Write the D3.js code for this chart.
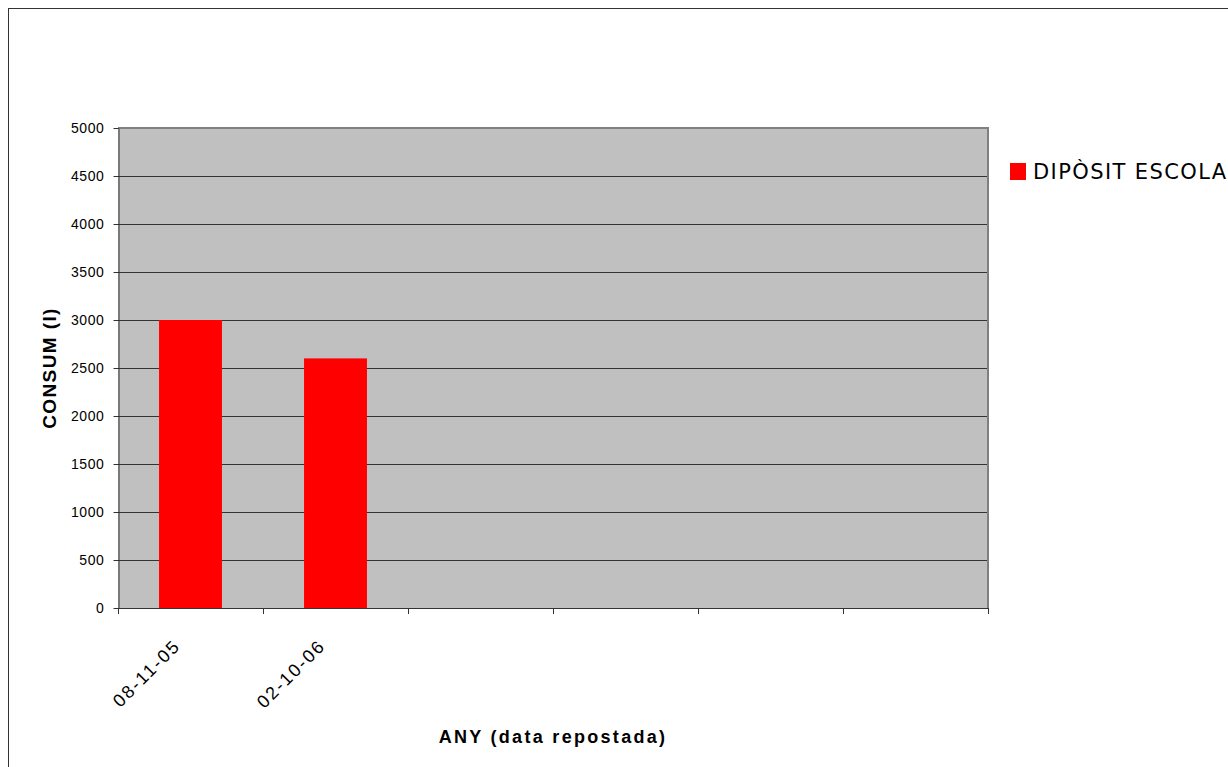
<!DOCTYPE html>
<html>
<head>
<meta charset="utf-8">
<script src="https://cdn.jsdelivr.net/npm/d3@7"></script>
<style>
  html, body { margin: 0; padding: 0; background: #fff; overflow: hidden; }
  svg { display: block; }
  .tick-label { font-family: "Liberation Sans", Arial, sans-serif; font-size: 14px; fill: #000; letter-spacing: 0.6px; }
  .date-label { font-family: "Liberation Sans", Arial, sans-serif; font-size: 18px; fill: #000; letter-spacing: 2px; }
  .axis-title { font-family: "Liberation Sans", Arial, sans-serif; font-size: 18px; font-weight: bold; fill: #000; letter-spacing: 2.3px; }
  .y-title { font-size: 19px; letter-spacing: 1.4px; }
  .legend-label { font-family: "DejaVu Sans", Verdana, sans-serif; font-size: 21px; fill: #000; letter-spacing: 1.4px; }
</style>
</head>
<body>
<div id="chart"></div>
<script>
// dades: consum per data de repostada
const categories = ["08-11-05", "02-10-06", "", "", "", ""];
const consum = [3000, 2600, null, null, null, null];
const yTicks = [0, 500, 1000, 1500, 2000, 2500, 3000, 3500, 4000, 4500, 5000];
const seriesName = "DIPÒSIT ESCOLAR";

const W = 1228, H = 767;
const plot = { left: 118, right: 988, top: 128, bottom: 608 };

const svg = d3.select("#chart")
  .append("svg")
  .attr("width", W)
  .attr("height", H);

// marc exterior (tallat per la dreta i per baix)
svg.append("rect")
  .attr("x", 8.5).attr("y", 8.5)
  .attr("width", W + 40).attr("height", H + 40)
  .attr("fill", "#fff")
  .attr("stroke", "#333").attr("stroke-width", 1);

const x = d3.scaleBand()
  .domain(d3.range(categories.length))
  .range([plot.left, plot.right])
  .paddingInner(0.566)
  .paddingOuter(0.283);

const y = d3.scaleLinear()
  .domain([0, 5000])
  .range([plot.bottom, plot.top]);

// fons gris de l'àrea de traçat
svg.append("rect")
  .attr("x", plot.left).attr("y", plot.top)
  .attr("width", plot.right - plot.left)
  .attr("height", plot.bottom - plot.top)
  .attr("fill", "#c0c0c0");

// línies de graella
svg.append("g")
  .selectAll("line")
  .data(yTicks.filter(d => d > 0 && d < 5000))
  .join("line")
  .attr("x1", plot.left).attr("x2", plot.right)
  .attr("y1", d => Math.round(y(d)) + 0.5)
  .attr("y2", d => Math.round(y(d)) + 0.5)
  .attr("stroke", "#333").attr("stroke-width", 1);

// vora superior i dreta en gris
svg.append("path")
  .attr("d", `M${plot.left},${plot.top} H${plot.right} V${plot.bottom}`)
  .attr("fill", "none")
  .attr("stroke", "#808080").attr("stroke-width", 2);

// barres
svg.append("g")
  .selectAll("rect")
  .data(consum.map((v, i) => ({ i, v })).filter(d => d.v != null))
  .join("rect")
  .attr("x", d => x(d.i))
  .attr("width", x.bandwidth())
  .attr("y", d => y(d.v))
  .attr("height", d => y(0) - y(d.v))
  .attr("fill", "#ff0000");

// eix Y
const yAxis = svg.append("g")
  .attr("transform", `translate(${plot.left + 0.5},0)`)
  .call(d3.axisLeft(y).tickValues(yTicks).tickFormat(d3.format("d"))
    .tickSize(5).tickPadding(9).tickSizeOuter(0));
yAxis.select(".domain").attr("stroke", "#333");
yAxis.selectAll(".tick line").attr("stroke", "#333");
yAxis.selectAll(".tick text")
  .attr("class", "tick-label")
  .attr("font-size", null).attr("font-family", null);

// eix X: línia, marques a les fronteres de categoria
const step = x.step();
const bounds = d3.range(categories.length + 1).map(k => plot.left + k * step);
const xAxis = svg.append("g");
xAxis.append("line")
  .attr("x1", plot.left).attr("x2", plot.right + 1)
  .attr("y1", plot.bottom + 0.5).attr("y2", plot.bottom + 0.5)
  .attr("stroke", "#333");
xAxis.selectAll("line.tk")
  .data(bounds)
  .join("line")
  .attr("class", "tk")
  .attr("x1", d => Math.round(d) + 0.5).attr("x2", d => Math.round(d) + 0.5)
  .attr("y1", plot.bottom).attr("y2", plot.bottom + 6)
  .attr("stroke", "#333");

// etiquetes de data girades
xAxis.selectAll("text")
  .data(categories.map((c, i) => ({ c, i })).filter(d => d.c !== ""))
  .join("text")
  .attr("class", "date-label")
  .attr("text-anchor", "end")
  .attr("transform", d => `translate(${x(d.i) + x.bandwidth() / 2 - 9},${plot.bottom + 39}) rotate(-45)`)
  .text(d => d.c);

// títols dels eixos
svg.append("text")
  .attr("class", "axis-title")
  .attr("x", (plot.left + plot.right) / 2)
  .attr("y", 743)
  .attr("text-anchor", "middle")
  .text("ANY (data repostada)");

svg.append("text")
  .attr("class", "axis-title y-title")
  .attr("transform", `translate(56,${(plot.top + plot.bottom) / 2}) rotate(-90)`)
  .attr("text-anchor", "middle")
  .text("CONSUM (l)");

// llegenda
const lg = svg.append("g").attr("transform", "translate(1010,163)");
lg.append("rect")
  .attr("width", 16).attr("height", 17)
  .attr("fill", "#ff0000");
lg.append("text")
  .attr("class", "legend-label")
  .attr("x", 23).attr("y", 16)
  .text(seriesName);
</script>
</body>
</html>
